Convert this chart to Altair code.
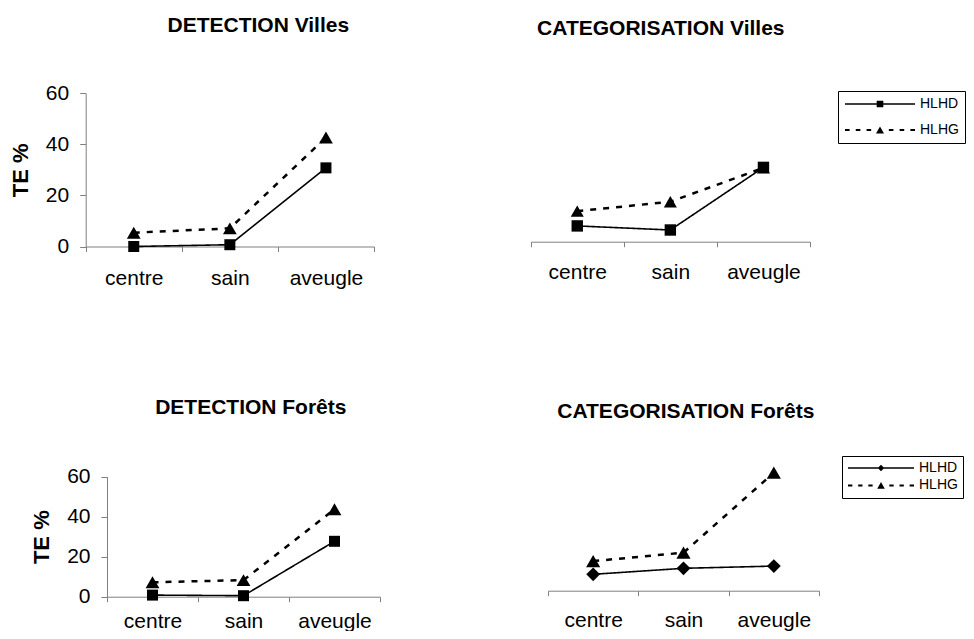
import altair as alt
import pandas as pd

# ---------------- data ----------------
cats = ["centre", "sain", "aveugle"]
series = ["HLHD", "HLHG"]

dv_hlhd = [0.0, 0.7, 30.8]
dv_hlhg = [5.4, 7.1, 42.7]
cv_hlhd = [6.2, 4.6, 29.2]
cv_hlhg = [12.0, 15.7, 29.0]
df_hlhd = [0.8, 0.5, 27.7]
df_hlhg = [7.2, 8.3, 43.7]
cf_hlhd = [8.2, 11.2, 12.3]
cf_hlhg = [14.8, 19.0, 59.0]

y_ticks = [0, 20, 40, 60]
titles = ["DETECTION Villes", "CATEGORISATION Villes",
          "DETECTION Forêts", "CATEGORISATION Forêts"]
y_title = "TE %"

FONT = "Liberation Sans"
GRAY = "#808080"
W, H = 958, 623

# legend symbols: line + marker drawn as filled shapes (unit-square coords)
LINE = "M-1,-0.022L1,-0.022L1,0.022L-1,0.022Z"
SQ_PATH = LINE + "M-0.095,-0.095L0.095,-0.095L0.095,0.095L-0.095,0.095Z"
DI_PATH = LINE + "M-0.1,0L0,-0.1L0.1,0L0,0.1Z"
_dashes = [(-1, -0.868), (-0.692, -0.561), (-0.384, -0.253),
           (0.253, 0.384), (0.561, 0.692), (0.868, 1)]
TR_PATH = "".join("M%g,-0.03L%g,-0.03L%g,0.03L%g,0.03Z" % (a, b, b, a)
                  for a, b in _dashes) + "M-0.115,0.1L0.115,0.1L0,-0.1Z"


def make_df(vd, vg):
    rows = []
    for s, vals in (("HLHG", vg), ("HLHD", vd)):
        for c, v in zip(cats, vals):
            rows.append({"cat": c, "serie": s, "value": v})
    return pd.DataFrame(rows)


def panel(vd, vg, xr, yr, x_off, y_off, shapes, sizes, lab_pad,
          legend_pos=None, hlhd_path=SQ_PATH):
    data = make_df(vd, vg)
    x = alt.X("cat:N", sort=cats,
              scale=alt.Scale(type="band", domain=cats, range=xr,
                              paddingInner=0, paddingOuter=0),
              axis=alt.Axis(orient="bottom", offset=x_off, title=None,
                            labelAngle=0, tickBand="extent", tickSize=5,
                            tickColor=GRAY, domainColor=GRAY, grid=False,
                            labelFont=FONT, labelFontSize=21,
                            labelColor="black", labelPadding=lab_pad))
    if y_off is None:
        yaxis = None
    else:
        yaxis = alt.Axis(orient="left", offset=y_off, values=y_ticks,
                         title=y_title, titleFont=FONT, titleFontSize=22,
                         titleFontWeight="bold", titleColor="black",
                         titlePadding=13, tickSize=6, tickColor=GRAY,
                         domainColor=GRAY, grid=False, labelFont=FONT,
                         labelFontSize=21, labelColor="black",
                         labelPadding=11)
    y = alt.Y("value:Q", scale=alt.Scale(domain=[0, 60], range=yr, nice=False),
              axis=yaxis)
    base = alt.Chart(data).encode(x=x, y=y)
    line = base.mark_line(color="black").encode(
        strokeDash=alt.StrokeDash("serie:N",
                                  scale=alt.Scale(domain=series,
                                                  range=[[1, 0], [6, 7]]),
                                  legend=None),
        strokeWidth=alt.StrokeWidth("serie:N",
                                    scale=alt.Scale(domain=series,
                                                    range=[1.6, 2.5]),
                                    legend=None),
        detail="serie:N")
    pts = base.mark_point(filled=True, color="black", opacity=1).encode(
        shape=alt.Shape("serie:N", scale=alt.Scale(domain=series, range=shapes),
                        legend=None),
        size=alt.Size("serie:N", scale=alt.Scale(domain=series, range=sizes),
                      legend=None))
    layers = [line, pts]
    if legend_pos is not None:
        lx, ly, rp, pad, ssize = legend_pos
        leg = alt.Legend(
            title=None, orient="none", legendX=lx, legendY=ly,
            direction="vertical", padding=pad, strokeColor="black",
            fillColor="white", cornerRadius=0, labelFont=FONT,
            labelFontSize=14, labelColor="black", labelOffset=4,
            symbolOffset=0, symbolSize=ssize, clipHeight=14, rowPadding=rp,
            symbolFillColor="black", symbolOpacity=1)
        key = base.transform_filter("false").mark_point(
            filled=True, fill="black", opacity=1, size=ssize).encode(
            shape=alt.Shape("serie:N",
                            scale=alt.Scale(domain=series,
                                            range=[hlhd_path, TR_PATH]),
                            legend=leg))
        layers.append(key)
    return alt.layer(*layers).resolve_scale(shape="independent")


def title_mark(text, tx, ty):
    return alt.Chart(pd.DataFrame({"t": [text]})).mark_text(
        font=FONT, fontSize=21, fontWeight="bold", color="black",
        align="center", baseline="alphabetic").encode(
        text="t:N", x=alt.value(tx), y=alt.value(ty))


p1 = panel(dv_hlhd, dv_hlhg, [77.7, 366], [238.5, 85.3], 238.5 - H, -77.7,
           ["square", "triangle-up"], [121, 190], 16)
p2 = panel(cv_hlhd, cv_hlhg, [522.7, 802], [233.7, 81], 233.7 - H, None,
           ["square", "triangle-up"], [130, 170], 15,
           legend_pos=(830, 83, 12, 6, 4900))
p3 = panel(df_hlhd, df_hlhg, [99, 372], [588.7, 468.7], 588.7 - H, -99,
           ["square", "triangle-up"], [121, 190], 9)
p4 = panel(cf_hlhd, cf_hlhg, [540, 811], [582.7, 462.7], 582.7 - H, None,
           ["diamond", "triangle-up"], [190, 200], 14,
           legend_pos=(834, 448, 3.4, 5, 4356), hlhd_path=DI_PATH)

t1 = title_mark(titles[0], 250.3, 23.7)
t2 = title_mark(titles[1], 652.8, 27)
t3 = title_mark(titles[2], 242.8, 406.3)
t4 = title_mark(titles[3], 677.8, 410.3)

chart = alt.layer(p1, p2, p3, p4, t1, t2, t3, t4).resolve_scale(
    x="independent", y="independent", shape="independent",
    strokeDash="independent", strokeWidth="independent", size="independent"
).resolve_axis(x="independent", y="independent").resolve_legend(
    shape="independent", strokeDash="independent"
).properties(
    width=W, height=H, padding=0,
    autosize=alt.AutoSizeParams(type="none"),
    background="white"
).configure_view(stroke=None)

chart.save("out.html", embed_options={"renderer": "svg", "actions": False})
